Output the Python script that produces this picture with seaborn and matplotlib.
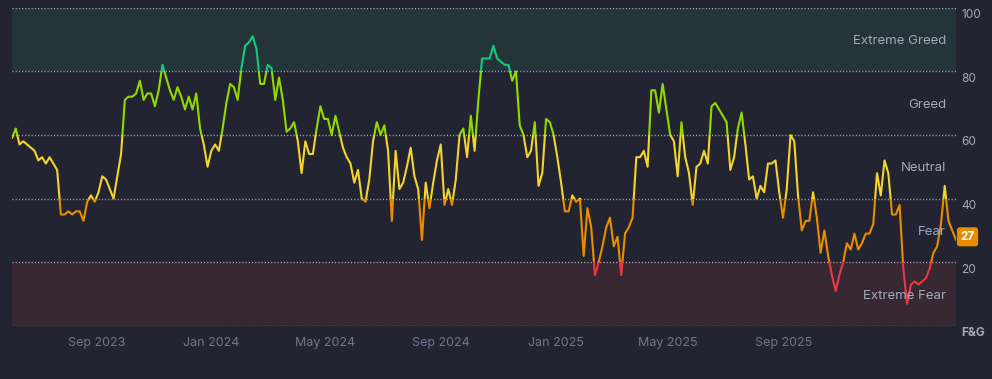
import pandas as pd
import seaborn as sns
import matplotlib.pyplot as plt
import matplotlib.transforms as mtransforms
from matplotlib.patches import Rectangle

#################### Data ####################

start_date = '2023-06-03'
step = '4D'

fg_values = [
    59, 62, 57, 58, 57, 56, 55, 52, 53, 51, 53, 51, 49, 35, 35, 36, 35, 36, 36, 33,
    39, 41, 39, 42, 47, 46, 43, 40, 47, 54, 71, 72, 72, 73, 77, 71, 73, 73, 69, 74,
    82, 78, 74, 71, 75, 72, 68, 72, 68, 73, 62, 57, 50, 55, 57, 55, 62, 70, 76, 75,
    71, 81, 88, 89, 91, 87, 76, 76, 82, 81, 71, 78, 71, 61, 62, 64, 58, 48, 58, 54,
    54, 62, 69, 65, 65, 60, 66, 61, 56, 53, 51, 45, 49, 40, 39, 46, 58, 64, 60, 63,
    55, 33, 55, 43, 45, 50, 56, 47, 43, 27, 45, 37, 45, 52, 57, 38, 43, 38, 46, 60,
    62, 53, 66, 55, 71, 84, 84, 84, 88, 84, 83, 82, 82, 77, 80, 63, 60, 53, 55, 64,
    44, 48, 65, 64, 60, 53, 45, 36, 36, 41, 39, 40, 22, 37, 31, 16, 20, 25, 31, 34,
    25, 28, 16, 29, 31, 34, 53, 53, 55, 50, 74, 74, 67, 76, 68, 60, 58, 47, 64, 53,
    48, 38, 50, 51, 55, 51, 69, 70, 68, 66, 64, 49, 53, 62, 67, 57, 46, 47, 40, 44,
    42, 51, 51, 52, 42, 34, 43, 60, 58, 41, 30, 33, 33, 42, 34, 23, 30, 22, 16, 11,
    16, 20, 26, 24, 29, 24, 26, 29, 29, 32, 48, 41, 52, 48, 35, 35, 38, 18, 7, 13,
    14, 13, 14, 15, 18, 23, 25, 32, 44, 33, 30, 27,
]

zone_names = ['Extreme Fear', 'Fear', 'Neutral', 'Greed', 'Extreme Greed']
zone_edges = [0, 20, 40, 60, 80, 100]
zone_colors = ['#ea3943', '#ea8c00', '#f3d42f', '#93d900', '#16c784']

tick_dates = ['2023-09-01', '2024-01-01', '2024-05-01', '2024-09-01',
              '2025-01-01', '2025-05-01', '2025-09-01']
y_ticks = [0, 20, 40, 60, 80, 100]
y_tick_labels = ['F&G', '20', '40', '60', '80', '100']

df = pd.DataFrame({
    'date': pd.date_range(start_date, periods=len(fg_values), freq=step),
    'fg': fg_values,
})

#################### Style ####################

bg = '#222531'
label_col = '#a3a8bb'
sns.set_theme(style='dark', rc={'axes.facecolor': bg, 'figure.facecolor': bg})
plt.rcParams['font.family'] = ['Inter', 'DejaVu Sans']

fig = plt.figure(figsize=(9.92, 3.79), dpi=100)
ax = fig.add_axes([12 / 992, 53 / 379, 944 / 992, 318.5 / 379])

#################### Bands and grid ####################

ax.axhspan(80, 100, color='#233538', zorder=0, lw=0)
ax.axhspan(0, 20, color='#372833', zorder=0, lw=0)
for y in y_ticks:
    ax.axhline(y, color='#d5d8e0', lw=1.0, ls=(0, (0.7, 1.6)), alpha=0.85, zorder=1)

#################### Line coloured by zone ####################

band_tf = mtransforms.blended_transform_factory(ax.transAxes, ax.transData)
for i, col in enumerate(zone_colors):
    lo = zone_edges[i] if i > 0 else -50
    hi = zone_edges[i + 1] if i < 4 else 150
    sns.lineplot(data=df, x='date', y='fg', color=col, linewidth=1.5, ax=ax, zorder=3)
    clip = Rectangle((0, lo), 1, hi - lo, transform=band_tf)
    ax.lines[-1].set_clip_path(clip)

#################### Zone labels ####################

for i, name in enumerate(zone_names):
    mid = (zone_edges[i] + zone_edges[i + 1]) / 2
    ax.text(0.9894, mid - 0.5, name, transform=band_tf, ha='right', va='center',
            color=label_col, fontsize=9.5, zorder=4)

# current value badge
ax.text(1.0122, fg_values[-1] + 1, str(fg_values[-1]), transform=band_tf,
        ha='center', va='center', color='white', fontsize=8.5, fontweight='bold',
        bbox=dict(boxstyle='round,pad=0.3,rounding_size=0.25', fc='#ea8c00', ec='none'),
        zorder=5, clip_on=False)

#################### Axes ####################

ax.set_xlim(df['date'].iloc[0], df['date'].iloc[-1])
ax.set_ylim(0, 100)
ax.set_xlabel('')
ax.set_ylabel('')
ax.grid(False)
for s in ax.spines.values():
    s.set_visible(False)

ax.set_xticks(pd.to_datetime(tick_dates))
ax.set_xticklabels([pd.Timestamp(d).strftime('%b %Y') for d in tick_dates])
ax.tick_params(axis='x', length=0, pad=8, labelsize=9, labelcolor='#6d7791')

ax.yaxis.tick_right()
ax.set_yticks(y_ticks)
ax.set_yticklabels(y_tick_labels)
ax.tick_params(axis='y', length=0, pad=4, labelsize=8.5, labelcolor=label_col)
offset = mtransforms.ScaledTranslation(0, -6 / 100, fig.dpi_scale_trans)
for lab in ax.get_yticklabels():
    lab.set_transform(lab.get_transform() + offset)
ax.get_yticklabels()[0].set_fontweight('bold')

plt.savefig('out.png', dpi=100, facecolor=bg)
